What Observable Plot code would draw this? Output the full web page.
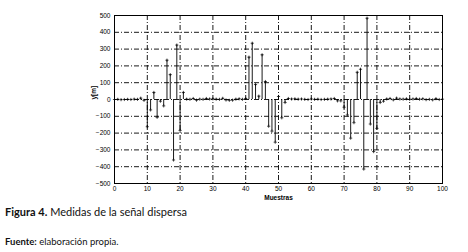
<!DOCTYPE html>
<html>
<head>
<meta charset="utf-8">
<script src="https://cdn.jsdelivr.net/npm/d3@7"></script>
<script src="https://cdn.jsdelivr.net/npm/@observablehq/plot@0.6"></script>
<style>
  html, body { margin: 0; padding: 0; background: #fff; }
  #wrap { position: relative; width: 468px; height: 252px; overflow: hidden; }
  #chart { position: absolute; left: 0; top: 0; }
  .cap { position: absolute; left: 5px; font-family: Lato, "Open Sans", sans-serif; color: #111; white-space: nowrap; }
  #fig { top: 205px; font-size: 11px; }
  #src { top: 236px; font-size: 9.5px; }
</style>
</head>
<body>
<div id="wrap">
  <div id="chart"></div>
  <div class="cap" id="fig"><b>Figura 4.</b> Medidas de la señal dispersa</div>
  <div class="cap" id="src"><b>Fuente:</b> elaboración propia.</div>
</div>
<script>
const samples = d3.range(0, 101);
const values = [
  0, 1, -1, 0, 1, 0, 2, 1, 8, -5,
  -162, -62, 42, -106, -10, -38, 234, 148, -360, 324,
  -184, 42, 2, 1, 6, -4, 2, 1, 6, 3,
  4, 2, 1, 7, -3, -5, -4, 2, 4, 1,
  6, 252, 335, 89, 20, 266, 107, -159, -188, -254,
  18, -109, -18, 6, 3, 4, 2, 3, 1, 0,
  3, 1, 2, 0, 1, 2, 3, 6, -8, -8,
  -46, -92, -230, -138, 162, 180, -414, 484, -146, -310,
  -172, -18, -10, 3, 6, -2, 8, 3, 2, 4,
  1, 3, 6, 2, 4, -1, 1, -2, 5, 0,
  2
];
const xTicks = [0, 10, 20, 30, 40, 50, 60, 70, 80, 90, 100];
const yTicks = [-500, -400, -300, -200, -100, 0, 100, 200, 300, 400, 500];
const xLabel = "Muestras";
const yLabel = "y[m]";

const data = samples.map((n, i) => ({n, v: values[i]}));
const dash = "5,2,1,2";

const chart = Plot.plot({
  width: 468,
  height: 203,
  marginLeft: 114,
  marginRight: 26,
  marginTop: 15,
  marginBottom: 20,
  style: {fontFamily: "'Liberation Sans', Arial, sans-serif", fontSize: "6.5px", color: "#000", background: "#fff"},
  x: {domain: [0, 100]},
  y: {domain: [-500, 500]},
  marks: [
    Plot.gridX(xTicks.slice(1, -1), {stroke: "#000", strokeOpacity: 1, strokeWidth: 0.9, strokeDasharray: dash}),
    Plot.gridY(yTicks.slice(1, -1), {stroke: "#000", strokeOpacity: 1, strokeWidth: 0.9, strokeDasharray: dash}),
    Plot.ruleX(data, {x: "n", y1: 0, y2: "v", stroke: "#000", strokeWidth: 0.9}),
    Plot.dot(data, {x: "n", y: "v", symbol: "plus", r: 1.1, stroke: "#000", strokeWidth: 0.7}),
    Plot.frame({stroke: "#000", strokeWidth: 1}),
    Plot.axisX(xTicks, {tickSize: 0, tickPadding: 3, label: null, fill: "#000", tickFormat: d => String(d)}),
    Plot.axisY(yTicks, {tickSize: 0, tickPadding: 4, label: null, fill: "#000"}),
    Plot.text([xLabel], {frameAnchor: "bottom", lineAnchor: "top", dy: 12, fontWeight: "bold", fontSize: 6.5, fill: "#000"}),
    Plot.text([yLabel], {frameAnchor: "left", dx: -21, rotate: -90, fontWeight: "bold", fontSize: 6.5, fill: "#000"})
  ]
});
document.getElementById("chart").appendChild(chart);
</script>
</body>
</html>
